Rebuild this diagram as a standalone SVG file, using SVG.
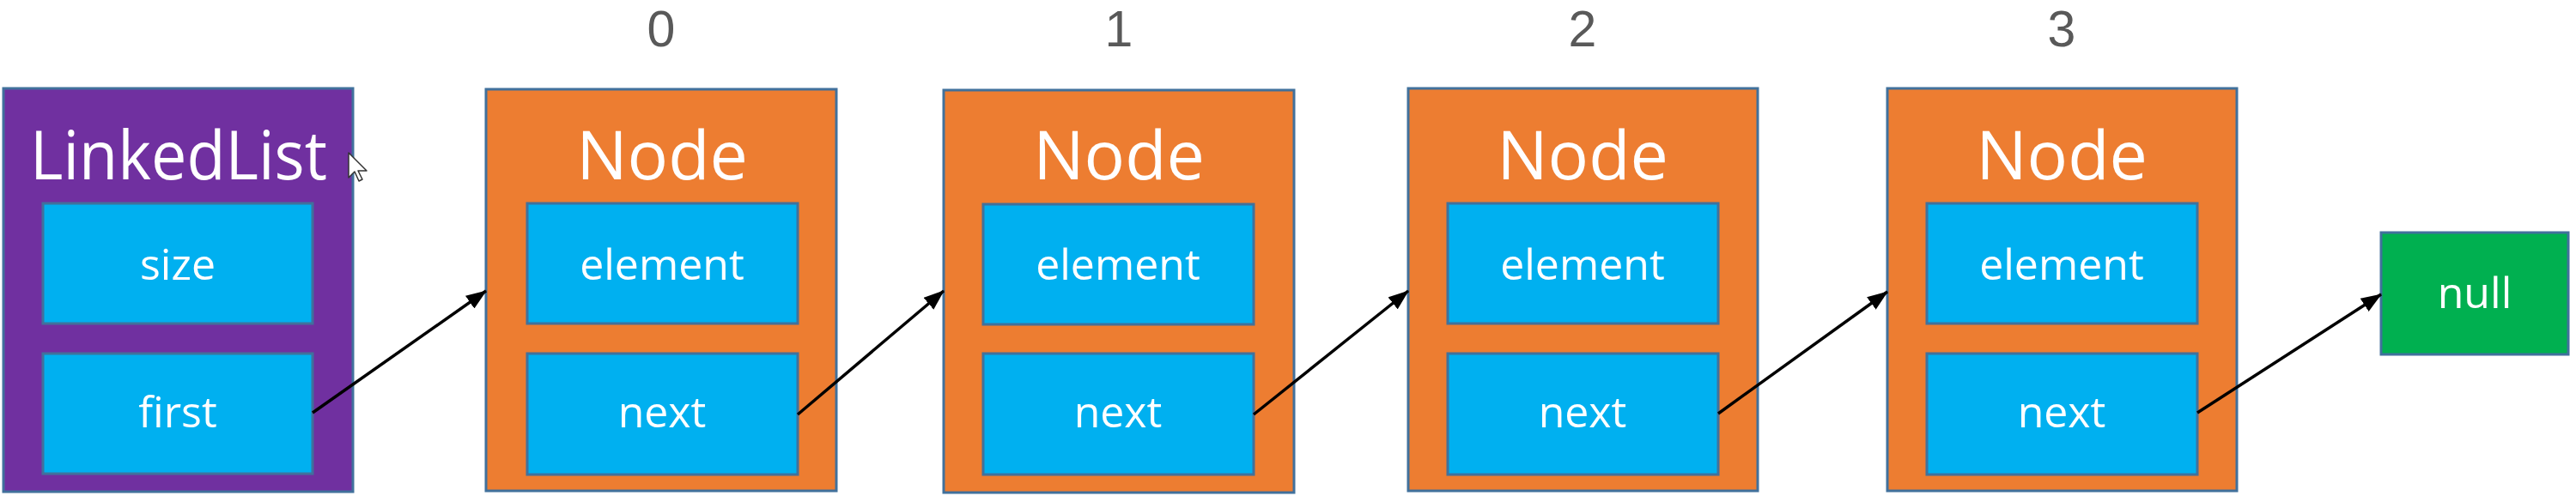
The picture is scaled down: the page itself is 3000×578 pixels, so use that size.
<svg xmlns="http://www.w3.org/2000/svg" width="3000" height="578" viewBox="0 0 3000 578">
<defs>
<style>
.outer{stroke:#41719C;stroke-width:3}
.list{fill:#7030A0}
.node{fill:#ED7D31}
.field{fill:#00B0F0;stroke:#41719C;stroke-width:3}
.nul{fill:#00B050;stroke:#41719C;stroke-width:3}
.title{font-family:"Open Sans","Noto Sans",sans-serif;font-size:79px;fill:#FFFFFF;text-anchor:middle}
.lbl{font-family:"Open Sans","Noto Sans",sans-serif;font-size:50px;fill:#FFFFFF;text-anchor:middle}
.idx{font-family:"Liberation Sans","Open Sans",sans-serif;font-size:59px;fill:#595959;text-anchor:middle}
.conn{stroke:#000000;stroke-width:3.5;fill:none;marker-end:url(#arr)}
</style>
<marker id="arr" markerUnits="userSpaceOnUse" markerWidth="24" markerHeight="18" refX="23" refY="9" orient="auto">
<path d="M0,0 L24,9 L0,18 Z" fill="#000000"/>
</marker>
</defs>
<rect width="3000" height="578" fill="#FFFFFF"/>

<g id="linkedlist">
<rect class="outer list" x="4" y="103" width="407" height="470"/>
<text class="title" x="208" y="209" textLength="346" lengthAdjust="spacingAndGlyphs">LinkedList</text>
<rect class="field" x="50" y="237" width="314" height="140"/>
<text class="lbl" x="207" y="326">size</text>
<rect class="field" x="50" y="412" width="314" height="140"/>
<text class="lbl" x="207" y="498">first</text>
</g>

<g id="node0">
<text class="idx" x="770" y="54">0</text>
<rect class="outer node" x="566" y="104" width="408" height="468"/>
<text class="title" x="771" y="209">Node</text>
<rect class="field" x="614" y="237" width="315" height="140"/>
<text class="lbl" x="771" y="326">element</text>
<rect class="field" x="614" y="412" width="315" height="141"/>
<text class="lbl" x="771" y="498">next</text>
</g>

<g id="node1">
<text class="idx" x="1303" y="54">1</text>
<rect class="outer node" x="1099" y="105" width="408" height="469"/>
<text class="title" x="1303" y="209">Node</text>
<rect class="field" x="1145" y="238" width="315" height="140"/>
<text class="lbl" x="1302" y="326">element</text>
<rect class="field" x="1145" y="412" width="315" height="141"/>
<text class="lbl" x="1302" y="498">next</text>
</g>

<g id="node2">
<text class="idx" x="1843" y="54">2</text>
<rect class="outer node" x="1640" y="103" width="407" height="469"/>
<text class="title" x="1843" y="209">Node</text>
<rect class="field" x="1686" y="237" width="315" height="140"/>
<text class="lbl" x="1843" y="326">element</text>
<rect class="field" x="1686" y="412" width="315" height="141"/>
<text class="lbl" x="1843" y="498">next</text>
</g>

<g id="node3">
<text class="idx" x="2401" y="54">3</text>
<rect class="outer node" x="2198" y="103" width="407" height="469"/>
<text class="title" x="2401" y="209">Node</text>
<rect class="field" x="2244" y="237" width="315" height="140"/>
<text class="lbl" x="2401" y="326">element</text>
<rect class="field" x="2244" y="412" width="315" height="141"/>
<text class="lbl" x="2401" y="498">next</text>
</g>

<g id="null">
<rect class="nul" x="2773" y="271" width="218" height="142"/>
<text class="lbl" x="2882" y="359">null</text>
</g>

<g id="connectors">
<line class="conn" x1="364" y1="481" x2="566" y2="339"/>
<line class="conn" x1="929" y1="483" x2="1099" y2="339"/>
<line class="conn" x1="1460" y1="483" x2="1640" y2="339"/>
<line class="conn" x1="2001" y1="482" x2="2198" y2="340"/>
<line class="conn" x1="2559" y1="481" x2="2773" y2="343"/>
</g>

<g id="cursor">
<path d="M406,178 L406,207 L413,200 L418,211 L422,209 L417,199 L427,199 Z" fill="#FFFFFF" stroke="#333333" stroke-width="1.5" stroke-linejoin="round"/>
</g>
</svg>
